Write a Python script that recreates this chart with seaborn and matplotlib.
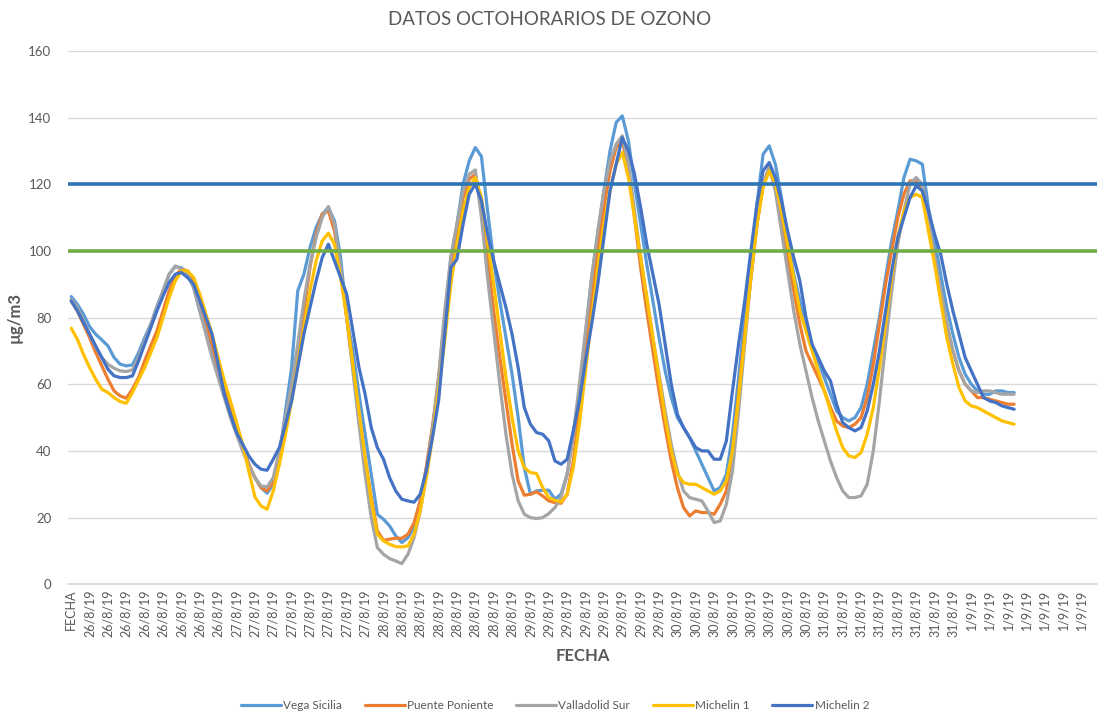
import matplotlib
matplotlib.use("Agg")
import matplotlib.pyplot as plt
import numpy as np
import pandas as pd
import seaborn as sns

# categorías del eje x: cabecera + horas de cada día
days = ["26/8/19", "27/8/19", "28/8/19", "29/8/19", "30/8/19", "31/8/19", "1/9/19"]
hours_per_day = [24, 24, 24, 24, 24, 24, 23]
categories = ["FECHA"] + [d for d, n in zip(days, hours_per_day) for _ in range(n)]

vega_sicilia = [
    86.3, 84, 81, 77.3, 75, 73.3, 71.5, 68, 66, 65.5, 65.8, 69.4, 74, 78, 83.3, 88, 93, 95.3, 94.9,
    93, 89, 82, 76, 70, 64, 58, 52, 46.5, 41, 36, 32, 29, 27.3, 30, 38, 52, 65, 88, 93, 101, 107,
    111, 113, 109, 98, 80, 70, 57, 45, 33, 21, 19.5, 17.5, 14.5, 12.5, 14, 17, 25, 35, 47, 60,
    80, 98, 108, 120, 127, 131, 128.3, 112, 97, 85, 74, 63, 50, 35, 27, 28, 28.2, 28.2, 25.5,
    27, 33, 45, 58, 75, 92, 105, 118, 130, 138.5, 140.5, 133, 120, 108, 96, 85, 74, 64, 56, 50,
    47, 44, 40, 36, 32, 28, 29, 33, 45, 62, 80, 98, 114, 129, 131.5, 126, 116, 104, 93, 85, 77,
    71, 67, 62, 57, 52, 50, 49, 50, 53, 60, 70, 80, 92, 103, 112, 122, 127.5, 127, 126, 113,
    103, 93, 83, 75, 68, 63, 60, 58, 57, 57, 58, 58, 57.5, 57.5,
]
puente_poniente = [
    85, 82, 78, 74, 69.5, 65.5, 61.5, 58, 56.5, 55.8, 58.5, 62, 67, 71.5, 76, 82, 88, 92.5, 94.5,
    94, 91, 85, 79, 72, 65, 58, 52, 46, 41, 36, 32, 29, 28, 31, 38, 48, 58, 70, 82, 95, 105, 111,
    112, 106, 94, 80, 65, 50, 38, 26, 16, 13.2, 13.5, 13.8, 13.8, 15, 18.5, 25, 35, 47, 62, 80,
    95, 105, 116, 121.5, 123, 113, 98, 82, 68, 55, 42, 31, 26.7, 27, 27.7, 26.5, 25, 24.5, 24.3,
    27, 37, 52, 68, 85, 100, 113, 124, 131, 133, 125, 110, 95, 82, 70, 58, 47, 37, 29, 23, 20.5,
    22, 21.5, 21.5, 21, 24, 28, 40, 57, 75, 92, 108, 120, 125, 120, 110, 98, 88, 78, 70, 66, 62,
    58, 53, 49, 47.5, 47, 48, 50, 56, 66, 78, 90, 100, 110, 117, 121, 121, 118, 108, 98, 88, 78,
    70, 64, 60, 58, 56, 56, 55.5, 55, 54.5, 54, 54,
]
valladolid_sur = [
    85.5, 83, 79, 75, 71, 68, 66, 64.8, 64, 63.8, 64.3, 68, 73, 78, 83, 88, 93, 95.5, 94.5, 93,
    89, 82, 75, 68, 62, 56, 50, 45, 40, 35.5, 32, 29.5, 29.2, 32, 40, 50, 60, 72, 85, 96, 104,
    110, 113.3, 108, 95, 80, 64, 48, 33, 20, 11, 9, 7.7, 7, 6.2, 9, 14, 22, 33, 46, 62, 82, 98,
    108, 118, 123, 124.3, 110, 92, 76, 60, 45, 33, 25, 21, 20, 19.7, 20, 21.2, 23, 26, 33, 45,
    60, 76, 92, 106, 118, 127, 132, 134.5, 126, 112, 98, 86, 74, 63, 52, 42, 34, 28, 26, 25.5,
    25, 22, 18.5, 19, 24, 34, 52, 72, 92, 108, 120, 125, 118, 106, 94, 82, 72, 64, 56, 49, 43,
    37, 32, 28, 26, 26, 26.5, 30, 40, 55, 72, 88, 102, 112, 120, 122, 120, 110, 98, 88, 78, 70,
    64, 60, 58, 57.5, 58, 58, 57.5, 57, 57, 57,
]
michelin_1 = [
    76.8, 73.5, 69, 65, 61.5, 58.5, 57.5, 56, 54.8, 54.3, 57.5, 61.3, 65, 69.5, 74, 80, 86, 91,
    94, 94, 92, 87, 81, 75, 68, 61, 55, 48.5, 42, 34, 26.2, 23.5, 22.5, 28, 36, 45, 55, 66, 77,
    88, 97, 103, 105.3, 102, 92, 80, 66, 52, 38, 25, 15, 13, 12, 11.3, 11.2, 11.5, 15, 22, 32,
    44, 58, 73, 90, 102, 112, 119, 122, 116, 103, 90, 76, 62, 50, 40, 35, 33.5, 33.2, 29, 26,
    25.2, 24.7, 27, 35, 48, 64, 80, 95, 108, 118, 126, 129.5, 122, 110, 98, 86, 74, 62, 50, 40,
    33, 30.5, 30, 30, 29, 28, 27, 28, 31, 40, 56, 74, 92, 108, 119, 124, 120, 112, 102, 92, 82,
    76, 70, 64, 58, 52, 46, 41, 38.5, 38, 39.5, 45, 53, 65, 78, 92, 104, 112, 116, 117, 116,
    106, 96, 85, 74, 66, 59, 55, 53.5, 53, 52, 51, 50, 49, 48.5, 48,
]
michelin_2 = [
    85, 82, 78.5, 75, 71.5, 68, 64.5, 62.5, 62, 62, 62.5, 67, 72, 77, 82, 86.5, 90.5, 93, 93.5,
    92, 90, 85, 80, 75, 66, 57, 51, 45.5, 42, 38.5, 36, 34.5, 34.2, 37.5, 41, 48, 55, 65, 75, 83,
    91, 98, 102, 97, 92, 87, 76, 65, 57, 47, 41, 37.5, 32, 28, 25.5, 25, 24.6, 27, 34, 44, 55,
    75, 95, 97.5, 108, 117, 120, 115, 105, 97, 90, 83, 75, 65, 53, 48, 45.5, 45, 43, 37, 36,
    37.5, 46, 55, 67, 78, 90, 104, 118, 126, 134, 130, 123, 113, 102, 93, 84, 72, 60, 51, 47,
    44, 41, 40, 40, 37.5, 37.5, 43, 58, 72, 85, 100, 114, 124, 126.5, 122, 115, 106, 98, 91,
    80, 72, 68, 64, 61, 54, 48.5, 47, 46, 47, 52, 60, 70, 82, 94, 104, 110, 116, 119.5, 118,
    112, 105, 99, 90, 82, 75, 68, 64, 60, 56, 55, 54.5, 53.5, 53, 52.5,
]

series_names = ["Vega Sicilia", "Puente Poniente", "Valladolid Sur", "Michelin 1", "Michelin 2"]
series_values = [vega_sicilia, puente_poniente, valladolid_sur, michelin_1, michelin_2]
colors = ["#5B9BD5", "#ED7D31", "#A5A5A5", "#FFC000", "#4472C4"]

umbral_informacion = 120
valor_objetivo = 100

sns.set_theme(style="white")
plt.rcParams["font.family"] = ["Lato", "DejaVu Sans"]

df = pd.concat(
    [
        pd.DataFrame({"idx": np.arange(len(v)), "valor": v, "estacion": name})
        for name, v in zip(series_names, series_values)
    ],
    ignore_index=True,
)

fig = plt.figure(figsize=(10.99, 7.16), dpi=100)
ax = fig.add_axes([0.062, 0.184, 0.936, 0.745])

sns.lineplot(
    data=df, x="idx", y="valor", hue="estacion", hue_order=series_names,
    palette=colors, linewidth=2.3, ax=ax, legend=False,
)
ax.axhline(umbral_informacion, color="#2E75B6", linewidth=2.6, zorder=5)
ax.axhline(valor_objetivo, color="#70AD47", linewidth=2.6, zorder=5)

ax.set_xlim(-0.5, len(categories) - 0.5)
ax.set_ylim(0, 160)
ax.set_yticks(range(0, 161, 20))
ax.set_xticks(range(0, len(categories), 3))
ax.set_xticklabels(categories[::3], rotation=90, fontsize=9, color="#595959")
ax.tick_params(axis="y", labelsize=9.5, labelcolor="#595959", length=0, pad=12)
ax.tick_params(axis="x", length=0, pad=4)
ax.yaxis.grid(True, color="#D9D9D9", linewidth=1)
for side in ["left", "right", "top"]:
    ax.spines[side].set_visible(False)
ax.spines["bottom"].set_color("#D9D9D9")

ax.set_xlabel("FECHA", fontsize=12, fontweight="bold", color="#595959", labelpad=8)
ax.set_ylabel("µg/m3", fontsize=12, fontweight="bold", color="#595959", labelpad=4)
fig.suptitle("DATOS OCTOHORARIOS DE OZONO", y=0.985, fontsize=13.5, color="#595959")

handles = [plt.Line2D([], [], color=c, linewidth=2.3) for c in colors]
fig.legend(
    handles, series_names, loc="lower center", ncol=5, frameon=False,
    bbox_to_anchor=(0.505, -0.008), fontsize=8.5, handlelength=3.4, handletextpad=0.2,
    columnspacing=1.9, labelcolor="#595959",
)

fig.savefig("out.png", dpi=100)
